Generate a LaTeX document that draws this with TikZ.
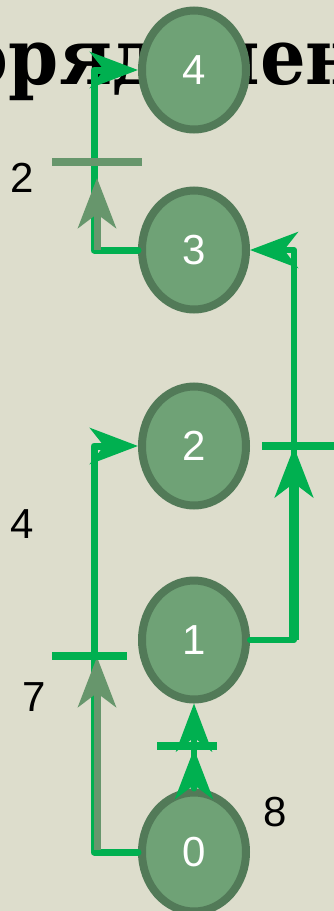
\documentclass[tikz,border=0pt]{standalone}
\usepackage{fontspec}
\usetikzlibrary{arrows.meta,shapes.geometric}
\newfontfamily\titlefont{DejaVu Serif}
\newfontfamily\numfont{Liberation Sans}
\definecolor{bgpaper}{HTML}{DDDDCC}
\definecolor{nodefill}{HTML}{6FA276}
\definecolor{nodeedge}{HTML}{527A58}
\definecolor{linkgreen}{HTML}{00B050}
\definecolor{linkgrey}{HTML}{67966C}

\begin{document}
\begin{tikzpicture}[x=1pt,y=-1pt,
  state/.style={ellipse, draw=nodeedge, fill=nodefill, line width=8pt,
    minimum width=104pt, minimum height=119pt, inner sep=0pt, text=white,
    font=\numfont\fontsize{42}{42}\selectfont},
  link/.style={draw=linkgreen, line width=7pt, line join=round, line cap=round},
  endtip/.style={-{Stealth[length=48pt,width=36pt,inset=14pt]}},
  midtip/.style={-{Stealth[length=50pt,width=38pt,inset=14pt]}},
  cut/.style={line width=8pt},
  weight/.style={font=\numfont\fontsize{42}{42}\selectfont, text=black, inner sep=0pt}
]
% paper
\fill[bgpaper] (0,0) rectangle (334,911);
\useasboundingbox (0,0) rectangle (334,911);
\clip (0,0) rectangle (334,911);

% heading behind the graph
\node[anchor=base west, inner sep=0pt, xscale=0.92,
  font=\titlefont\bfseries\fontsize{78}{78}\selectfont] (title) at (-150,84) {Упорядоченное};

% vertices
\node[state] (n4) at (194,70)  {4};
\node[state] (n3) at (194,250) {3};
\node[state] (n2) at (194,446) {2};
\node[state] (n1) at (194,640) {1};
\node[state] (n0) at (194,852) {0};

% bend points and marks
\coordinate (a1) at (94,852);
\coordinate (a2) at (94,446);
\coordinate (ag0) at (97,850);
\coordinate (ag1) at (97,657);
\coordinate (ta0) at (52,656);
\coordinate (ta1) at (127,656);

\coordinate (b1) at (294,640);
\coordinate (b2) at (294,250);
\coordinate (b3) at (294,447);
\coordinate (tb0) at (262,446);
\coordinate (tb1) at (334,446);

\coordinate (c1) at (94,250);
\coordinate (c2) at (94,70);
\coordinate (cg0) at (97,250);
\coordinate (cg1) at (97,178);
\coordinate (tc0) at (52,162);
\coordinate (tc1) at (142,162);

\coordinate (d1) at (194,749);
\coordinate (td0) at (157,746);
\coordinate (td1) at (217,746);

% 0 -> 2
\draw[link, endtip] (n0.west) -- (a1) -- (a2) -- (n2.west);
\draw[linkgrey, line width=7pt, midtip] (ag0) -- (ag1);
\draw[linkgreen, cut] (ta0) -- (ta1);

% 1 -> 3
\draw[link, line width=6pt, endtip] (n1.east) -- (b1) -- (b2) -- (n3.east);
\draw[linkgreen, line width=10pt, midtip] (b1) -- (b3);
\draw[linkgreen, cut] (tb0) -- (tb1);

% 3 -> 4
\draw[link, endtip] (n3.west) -- (c1) -- (c2) -- (n4.west);
\draw[linkgrey, line width=7pt, midtip] (cg0) -- (cg1);
\draw[linkgrey, cut] (tc0) -- (tc1);

% 0 -> 1
\draw[link, line width=6pt, endtip] (n0.north) -- (n1.south);
\draw[linkgreen, line width=6pt, midtip] (n0.north) -- (d1);
\draw[linkgreen, cut] (td0) -- (td1);

% weights
\node[weight] (w2) at (22,178) {2};
\node[weight] (w4) at (22,524) {4};
\node[weight] (w7) at (34,697) {7};
\node[weight] (w8) at (275,812) {8};
\end{tikzpicture}
\end{document}
